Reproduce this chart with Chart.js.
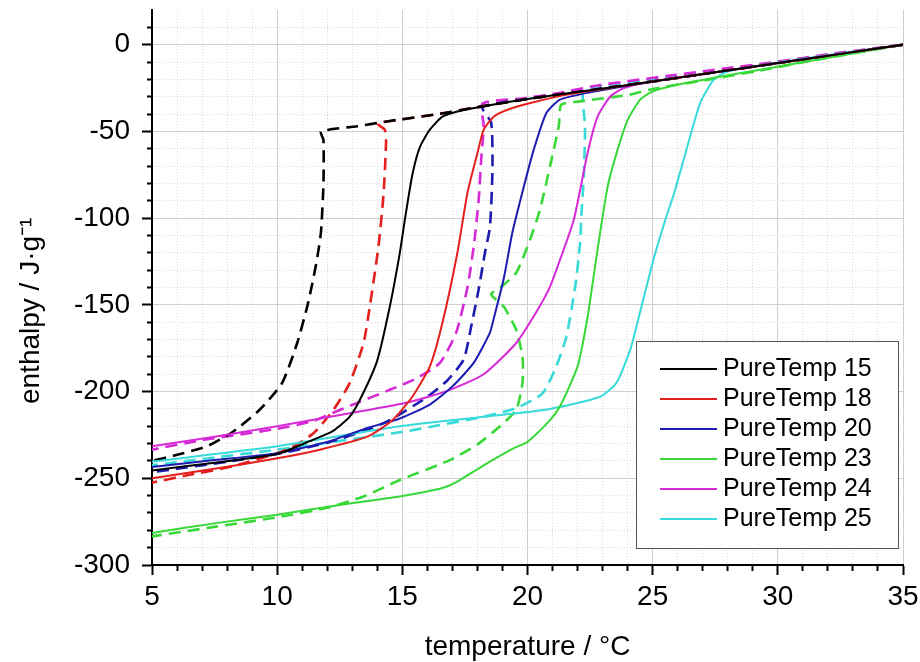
<!DOCTYPE html>
<html>
<head>
<meta charset="utf-8">
<title>PureTemp enthalpy curves</title>
<script src="https://cdn.jsdelivr.net/npm/chart.js@4.4.1/dist/chart.umd.min.js"></script>
<style>
  html, body { margin: 0; padding: 0; background: #fff; }
  #wrap { width: 920px; height: 662px; position: relative; }
</style>
</head>
<body>
<div id="wrap"><canvas id="enthalpyChart"></canvas></div>
<script>
// Series names and colours
const seriesNames = ['PureTemp 15', 'PureTemp 18', 'PureTemp 20', 'PureTemp 23', 'PureTemp 24', 'PureTemp 25'];
const seriesColors = ['#000000', '#e3201c', '#1c1cb0', '#38d838', '#d62ad6', '#38dada'];

// Tick labels
const xMajor = [5, 10, 15, 20, 25, 30, 35];
const yMajor = [-300, -250, -200, -150, -100, -50, 0];

// Heating curves (solid) and cooling curves (dashed), temperature in °C, enthalpy in J/g
const pt15HeatT = [5, 7.5, 10, 11.4, 12.2, 12.9, 13.4, 14, 14.5, 14.9, 15.1, 15.4, 15.7, 16.1, 16.6, 17.2, 18.2, 20, 22.5, 25, 27.5, 30, 32.5, 35];
const pt15HeatH = [-245.5, -241, -236, -228, -223, -214.5, -202, -182, -151, -120, -101, -75, -59, -49, -41.5, -38.5, -35.6, -31.3, -26.3, -21.2, -15.9, -10.6, -5.3, 0];
const pt15CoolT = [35, 32.5, 30, 27.5, 25, 22.5, 20, 18, 16.5, 14.5, 13.2, 11.75, 11.85, 11.85, 11.75, 11.6, 11.4, 11.2, 10.8, 10.2, 9.3, 8.25, 7.2, 6, 5];
const pt15CoolH = [0, -5.3, -10.6, -15.9, -21.2, -26.3, -31.3, -36, -39.8, -44, -47, -50, -55, -80, -108, -123, -138, -151, -172, -195, -210.5, -223, -231.5, -236.5, -240];

const pt18HeatT = [5, 7.5, 10, 11.7, 13.6, 14.6, 15.4, 16.1, 16.6, 17.2, 17.6, 18, 18.25, 18.65, 19.2, 20, 21.7, 25, 27.5, 30, 32.5, 35];
const pt18HeatH = [-250, -244.5, -238.5, -233.5, -226, -216.5, -203, -185.5, -160.5, -120, -85.5, -62.5, -49, -41.5, -37.5, -34, -28.5, -21.2, -15.9, -10.6, -5.3, 0];
const pt18CoolT = [35, 32.5, 30, 27.5, 25, 22.5, 20, 18, 16.5, 15, 14, 14.3, 14.35, 14.25, 14.05, 13.7, 13.45, 12.9, 12.25, 11.45, 10.4, 8.25, 6.5, 5];
const pt18CoolH = [0, -5.3, -10.6, -15.9, -21.2, -26.3, -31.3, -36, -39.8, -43, -45.5, -49, -56, -86, -116, -151, -172, -195, -210.5, -224, -233.5, -243, -248, -252.5];

const pt20HeatT = [5, 7.5, 10, 12, 13.6, 14.9, 16.1, 17, 17.85, 18.5, 18.65, 19.05, 19.4, 19.85, 20.25, 20.75, 21.3, 22.5, 25, 27.5, 30, 32.5, 35];
const pt20HeatH = [-243.5, -239.5, -235.5, -229, -221, -215.5, -207.5, -197, -183.5, -166, -158, -135, -108, -82, -60.5, -39.5, -31.7, -27.5, -21.2, -15.9, -10.6, -5.3, 0];
const pt20CoolT = [35, 32.5, 30, 27.5, 25, 22.5, 20, 18.2, 18.55, 18.6, 18.5, 18.3, 18.05, 17.75, 17.45, 16.8, 16, 14.5, 13.6, 12, 10, 8, 5];
const pt20CoolH = [0, -5.3, -10.6, -15.9, -21.2, -26.3, -31.3, -36, -45, -72, -105, -120, -141, -162.5, -181.5, -193.5, -203, -216.5, -222, -229.5, -236, -240.5, -246.5];

const pt23HeatT = [5, 7.5, 10, 12.9, 14.9, 16.5, 16.9, 17.3, 18.25, 19.4, 20, 20.9, 21.3, 22, 22.4, 22.8, 23.2, 23.6, 24, 24.5, 25, 26, 27.4, 29.3, 32, 35];
const pt23HeatH = [-281.5, -276, -271, -264.5, -260.5, -256, -254, -251, -242.5, -233, -229, -216.5, -208.5, -185.5, -157, -118, -82, -60.5, -43.5, -31.7, -27, -23, -19.2, -14.4, -7.5, 0];
const pt23CoolT = [35, 32, 29.3, 27.4, 25, 24.1, 22.1, 21.35, 21.25, 20.9, 20.5, 20.1, 19.55, 19, 18.55, 19.05, 19.55, 19.8, 19.8, 19.55, 18.9, 18, 16.9, 14.9, 13.45, 12, 10, 7.5, 5];
const pt23CoolH = [0, -7.5, -14.8, -19.8, -25.5, -28.8, -32.7, -34.6, -47, -70, -95, -112.5, -131.5, -139, -144, -151, -164.5, -180, -195, -210.5, -220, -230.5, -239.5, -251, -260.5, -267, -272.5, -278, -283.5];

const pt24HeatT = [5, 7.5, 10, 12.9, 15.3, 16.9, 18.25, 19.55, 20.4, 20.9, 21.3, 21.85, 22.4, 22.8, 23.3, 23.85, 25, 27.5, 30, 32.5, 35];
const pt24HeatH = [-231.5, -226, -220, -212.5, -206, -199, -190, -172, -153, -139.5, -124, -101, -62.5, -41.5, -30, -25, -21.2, -15.9, -10.6, -5.3, 0];
const pt24CoolT = [35, 32, 30, 28, 25.6, 22.8, 21.2, 19.8, 18.2, 18.25, 18.15, 18.05, 17.85, 17.6, 17.15, 16.5, 15.55, 14.5, 13.2, 12.1, 11.45, 10, 7, 5];
const pt24CoolH = [0, -5.5, -9.8, -13.5, -18, -23.5, -28, -31, -34, -47, -66, -89.5, -116.5, -140, -166, -183.5, -192.5, -199, -206.5, -213, -217, -221.5, -228, -233.5];

const pt25HeatT = [5, 7.5, 10, 14.9, 18.9, 20.9, 22.9, 23.55, 24.1, 24.5, 25.05, 25.55, 25.85, 26.35, 26.9, 27.45, 28, 30, 32.5, 35];
const pt25HeatH = [-240.5, -236, -231.5, -220, -213.5, -210, -203, -195, -176, -154, -123, -99, -86, -60.5, -33.5, -20, -15.5, -10.2, -5, 0];
const pt25CoolT = [35, 30, 27.5, 25, 23.5, 22.25, 22.3, 22.25, 22.15, 22.1, 21.9, 21.55, 21.15, 20.6, 19.55, 18.25, 16.25, 14.9, 10, 7.5, 5];
const pt25CoolH = [0, -10, -15, -20, -23.5, -26, -47, -76, -99, -114.5, -140, -168.5, -185.5, -201, -209.5, -214.5, -220, -223.5, -233.5, -238, -242.5];

const heatT = [pt15HeatT, pt18HeatT, pt20HeatT, pt23HeatT, pt24HeatT, pt25HeatT];
const heatH = [pt15HeatH, pt18HeatH, pt20HeatH, pt23HeatH, pt24HeatH, pt25HeatH];
const coolT = [pt15CoolT, pt18CoolT, pt20CoolT, pt23CoolT, pt24CoolT, pt25CoolT];
const coolH = [pt15CoolH, pt18CoolH, pt20CoolH, pt23CoolH, pt24CoolH, pt25CoolH];

const fontFamily = "'Liberation Sans', Arial, sans-serif";

function toPoints(ts, hs) {
    return ts.map((t, i) => ({ x: t, y: hs[i] }));
}

// minor ticks every 1 °C and every 10 J/g
const xTickValues = [];
for (let v = 5; v <= 35; v++) xTickValues.push(v);
const yTickValues = [];
for (let v = -300; v <= 10; v += 10) yTickValues.push(v);

const isMajor = (ctx, list) => !ctx.tick || list.includes(ctx.tick.value);

const datasets = [];
seriesNames.forEach((name, i) => {
    datasets.push({
        label: name,
        data: toPoints(heatT[i], heatH[i]),
        borderColor: seriesColors[i],
        borderWidth: 2,
        showLine: true,
        pointRadius: 0,
        tension: 0.2
    });
});
seriesNames.forEach((name, i) => {
    datasets.push({
        label: name + ' cooling',
        data: toPoints(coolT[i], coolH[i]),
        borderColor: seriesColors[i],
        borderWidth: 2.6,
        borderDash: [12, 7],
        showLine: true,
        pointRadius: 0,
        tension: 0.2,
        hideInLegend: true
    });
});

// Framed legend inside the plot, lower right
const boxLegend = {
    id: 'boxLegend',
    afterDatasetsDraw(chart) {
        const { ctx, chartArea } = chart;
        const w = 262, h = 207;
        const left = chartArea.right - 5 - w;
        const top = chartArea.bottom - 17 - h;
        ctx.save();
        ctx.fillStyle = '#fff';
        ctx.fillRect(left, top, w, h);
        ctx.strokeStyle = '#555';
        ctx.lineWidth = 1;
        ctx.strokeRect(left + 0.5, top + 0.5, w, h);
        ctx.font = '25px ' + fontFamily;
        ctx.textBaseline = 'middle';
        ctx.textAlign = 'left';
        chart.data.datasets.filter(d => !d.hideInLegend).forEach((d, i) => {
            const y = top + 28 + i * 30;
            ctx.strokeStyle = d.borderColor;
            ctx.lineWidth = 2;
            ctx.beginPath();
            ctx.moveTo(left + 24, y);
            ctx.lineTo(left + 81, y);
            ctx.stroke();
            ctx.fillStyle = '#000';
            ctx.fillText(d.label, left + 87, y);
        });
        ctx.restore();
    }
};

const ctx = document.getElementById('enthalpyChart').getContext('2d');
const enthalpyChart = new Chart(ctx, {
    type: 'scatter',
    data: { datasets },
    options: {
        responsive: true,
        maintainAspectRatio: false,
        animation: false,
        layout: { padding: { top: 10, right: 17, left: 0, bottom: 0 } },
        plugins: {
            legend: { display: false },
            tooltip: { enabled: false }
        },
        scales: {
            x: {
                type: 'linear',
                min: 5,
                max: 35,
                afterBuildTicks: s => { s.ticks = xTickValues.map(v => ({ value: v })); },
                afterFit: s => { s.height = 97; s.paddingLeft = 0; s.paddingRight = 0; },
                ticks: {
                    autoSkip: false,
                    maxRotation: 0,
                    padding: 5,
                    color: '#000',
                    font: { size: 28, family: fontFamily },
                    callback: v => xMajor.includes(v) ? String(v) : ''
                },
                grid: {
                    color: c => isMajor(c, xMajor) ? '#cfcfcf' : '#dadada',
                    lineWidth: 1,
                    tickColor: '#000',
                    tickWidth: 2,
                    tickLength: 10,
                    tickBorderDash: c => isMajor(c, xMajor) ? [] : [5, 20]
                },
                border: { display: true, color: '#000', width: 2, dash: c => isMajor(c, xMajor) ? [] : [1, 2] },
                title: {
                    display: true,
                    text: 'temperature / °C',
                    color: '#000',
                    font: { size: 28, family: fontFamily, lineHeight: 1 },
                    padding: { top: 0, bottom: 1 }
                }
            },
            y: {
                type: 'linear',
                min: -300,
                max: 20,
                afterBuildTicks: s => { s.ticks = yTickValues.map(v => ({ value: v })); },
                afterFit: s => { s.width = 152; s.paddingTop = 0; s.paddingBottom = 0; },
                ticks: {
                    autoSkip: false,
                    padding: 12,
                    color: '#000',
                    font: { size: 28, family: fontFamily },
                    callback: v => yMajor.includes(v) ? String(v) : ''
                },
                grid: {
                    color: c => isMajor(c, yMajor) ? '#cfcfcf' : '#dadada',
                    lineWidth: 1,
                    tickColor: '#000',
                    tickWidth: 2,
                    tickLength: 10,
                    tickBorderDash: c => isMajor(c, yMajor) ? [] : [0, 5, 5, 20]
                },
                border: { display: true, color: '#000', width: 2, dash: c => isMajor(c, yMajor) ? [] : [1, 2] },
                title: {
                    display: true,
                    text: 'enthalpy / J·g⁻¹      ',
                    color: '#000',
                    font: { size: 28, family: fontFamily, lineHeight: 1 },
                    padding: { top: 17, bottom: 0 }
                }
            }
        }
    },
    plugins: [boxLegend]
});
</script>
</body>
</html>
